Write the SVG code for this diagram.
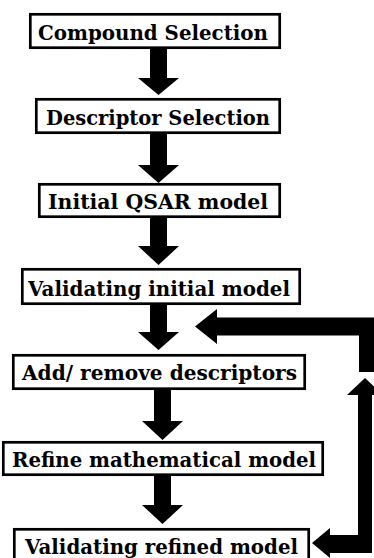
<svg xmlns="http://www.w3.org/2000/svg" width="374" height="558" viewBox="0 0 374 558">
<style>
.box{fill:#fff;stroke:#000;stroke-width:2.7}
.lbl{font-family:'DejaVu Serif',serif;font-weight:700;font-size:20px;fill:#000}
.arr{fill:#000}
</style>
<rect width="374" height="558" fill="#fff"/>
<g id="connectors">
<polygon class="arr" points="150,49 167,49 167,78 179,78 158.5,95 138,78 150,78"/>
<polygon class="arr" points="150,134 167,134 167,165 179,165 158.5,183 138,165 150,165"/>
<polygon class="arr" points="150,217 167,217 167,246 179,246 158.5,265 138,246 150,246"/>
<polygon class="arr" points="150,305 167,305 167,332 179,332 158.5,350 138,332 150,332"/>
<polygon class="arr" points="154,390 171,390 171,421 183,421 162.5,440 142,421 154,421"/>
<polygon class="arr" points="154,476 171,476 171,505 183,505 162.5,524 142,505 154,505"/>
<polygon class="arr" points="195,326.5 217,309 217,317.5 380,317.5 380,372 359,372 359,335.5 217,335.5 217,344"/>
<polygon class="arr" points="312,543 330,528 330,535 358,535 358,395 347,395 365,378 383,395 372,395 372,553 330,553 330,558"/>
</g>
<g id="n1"><rect class="box" x="30.3" y="14.3" width="249.4" height="33.4"/><text class="lbl" x="38" y="39.5" textLength="230" lengthAdjust="spacingAndGlyphs">Compound Selection</text></g>
<g id="n2"><rect class="box" x="36.3" y="99.3" width="243.4" height="33.4"/><text class="lbl" x="46" y="124.5" textLength="224" lengthAdjust="spacingAndGlyphs">Descriptor Selection</text></g>
<g id="n3"><rect class="box" x="39.3" y="184.3" width="240.4" height="32.4"/><text class="lbl" x="48" y="208.5" textLength="220" lengthAdjust="spacingAndGlyphs">Initial QSAR model</text></g>
<g id="n4"><rect class="box" x="22.3" y="269.3" width="277.4" height="34.4"/><text class="lbl" x="28" y="295.5" textLength="262" lengthAdjust="spacingAndGlyphs">Validating initial model</text></g>
<g id="n5"><rect class="box" x="13.3" y="355.3" width="291.4" height="33.4"/><text class="lbl" x="22" y="379.5" textLength="275" lengthAdjust="spacingAndGlyphs">Add/ remove descriptors</text></g>
<g id="n6"><rect class="box" x="3.3" y="442.3" width="319.4" height="32.4"/><text class="lbl" x="12" y="466.5" textLength="304" lengthAdjust="spacingAndGlyphs">Refine mathematical model</text></g>
<g id="n7"><rect class="box" x="14.3" y="529.3" width="294.4" height="36"/><text class="lbl" x="25" y="553.5" textLength="273" lengthAdjust="spacingAndGlyphs">Validating refined model</text></g>
</svg>
